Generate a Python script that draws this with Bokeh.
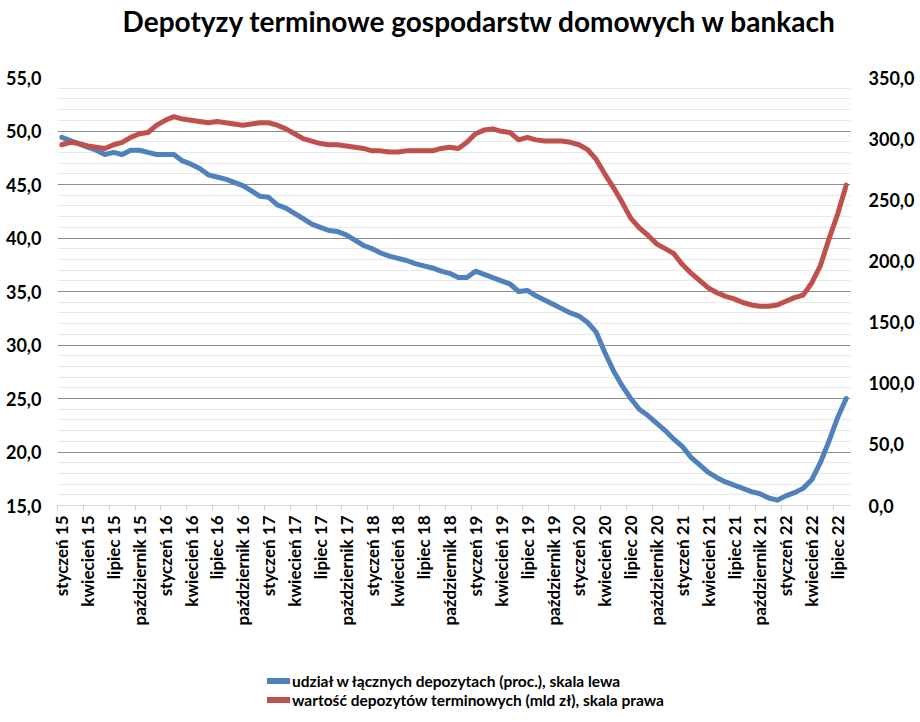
from bokeh.plotting import figure
from bokeh.layouts import column
from bokeh.models import (Range1d, LinearAxis, FixedTicker, Legend, LegendItem, Label)
from bokeh.embed import file_html
from bokeh.resources import INLINE

FONT = "Lato"

title_text = "Depotyzy terminowe gospodarstw domowych w bankach"
series_names = ["udział w łącznych depozytach (proc.), skala lewa",
                "wartość depozytów terminowych (mld zł), skala prawa"]

months_pl = ["styczeń", "kwiecień", "lipiec", "październik"]
years = ["15", "16", "17", "18", "19", "20", "21", "22"]

share = [49.4, 49.1, 48.8, 48.5, 48.2, 47.8, 48.0, 47.8, 48.2, 48.2, 48.0, 47.8,
         47.8, 47.8, 47.2, 46.9, 46.5, 45.9, 45.7, 45.5, 45.2, 44.9, 44.4, 43.9,
         43.8, 43.1, 42.8, 42.3, 41.8, 41.3, 41.0, 40.7, 40.6, 40.3, 39.8, 39.3,
         39.0, 38.6, 38.3, 38.1, 37.9, 37.6, 37.4, 37.2, 36.9, 36.7, 36.3, 36.3,
         36.9, 36.6, 36.3, 36.0, 35.7, 35.0, 35.1, 34.6, 34.2, 33.8, 33.4, 33.0,
         32.7, 32.1, 31.2, 29.3, 27.6, 26.2, 25.0, 24.0, 23.4, 22.7, 22.0, 21.2,
         20.5, 19.5, 18.8, 18.1, 17.6, 17.2, 16.9, 16.6, 16.3, 16.1, 15.7, 15.5,
         15.9, 16.2, 16.6, 17.4, 19.0, 21.0, 23.2, 25.0]

value = [295, 297, 296, 294, 293, 292, 295, 297, 301, 304, 305, 311,
         315, 318, 316, 315, 314, 313, 314, 313, 312, 311, 312, 313,
         313, 311, 308, 304, 300, 298, 296, 295, 295, 294, 293, 292,
         290, 290, 289, 289, 290, 290, 290, 290, 292, 293, 292, 297,
         304, 307, 308, 306, 305, 299, 301, 299, 298, 298, 298, 297,
         295, 291, 283, 271, 260, 248, 235, 227, 221, 214, 210, 206,
         197, 190, 184, 178, 174, 171, 169, 166, 164, 163, 163, 164,
         167, 170, 172, 182, 196, 218, 238, 262]

BLUE = "#4f81bd"
RED = "#c0504d"

n = len(share)
xs = list(range(n))

tick_pos = list(range(0, n, 3))
tick_labels = {}
for k, t in enumerate(tick_pos):
    tick_labels[t] = f"{months_pl[k % 4]} {years[k // 4]}"

left_ticks = list(range(15, 56, 5))
left_minor = [v for v in range(15, 56) if v % 5 != 0]
right_ticks = list(range(0, 351, 50))

W = 920
HEAD_H = 57
FOOT_H = 77

# ---------- header with the title ----------
hf = figure(width=W, height=HEAD_H, output_backend="svg", toolbar_location=None,
            x_range=Range1d(0, W), y_range=Range1d(0, HEAD_H),
            x_axis_type=None, y_axis_type=None, min_border=0,
            min_border_left=0, min_border_right=0, min_border_top=0, min_border_bottom=0)
hf.outline_line_color = None
hf.grid.visible = False
hf.add_layout(Label(x=490, y=37, text=title_text, text_align="center",
                    text_baseline="alphabetic", text_font=FONT, text_font_size="28px",
                    text_font_style="bold", text_color="black"))

# ---------- main chart ----------
p = figure(frame_width=793, frame_height=428, output_backend="svg", toolbar_location=None,
           x_range=Range1d(-0.5, n - 0.5), y_range=Range1d(15, 55),
           min_border_left=57, min_border_right=70, min_border_top=20,
           min_border_bottom=140)
p.outline_line_color = None
p.background_fill_color = "white"

p.extra_y_ranges = {"r": Range1d(0, 350)}

xa = p.xaxis[0]
xa.ticker = FixedTicker(ticks=tick_pos, minor_ticks=[t - 0.5 for t in tick_pos])
xa.major_label_overrides = tick_labels
xa.major_label_orientation = 3.14159265 / 2
xa.major_label_text_font = FONT
xa.major_label_text_font_size = "17px"
xa.major_label_text_font_style = "bold"
xa.major_label_text_color = "black"
xa.major_tick_line_color = None
xa.major_tick_out = 0
xa.major_tick_in = 0
xa.minor_tick_line_color = "#d0d0d0"
xa.minor_tick_out = 5
xa.minor_tick_in = 0
xa.axis_line_color = "#d9d9d9"
xa.major_label_standoff = 5

ya = p.yaxis[0]
ya.ticker = FixedTicker(ticks=left_ticks, minor_ticks=left_minor)
ya.major_label_overrides = {v: f"{v},0" for v in left_ticks}
ya.major_label_text_font = FONT
ya.major_label_text_font_size = "18px"
ya.major_label_text_font_style = "bold"
ya.major_label_text_color = "black"
ya.axis_line_color = None
ya.major_tick_line_color = None
ya.minor_tick_line_color = None
ya.major_tick_out = 0
ya.major_label_standoff = 12

ra = LinearAxis(y_range_name="r", ticker=FixedTicker(ticks=right_ticks))
ra.major_label_overrides = {v: f"{v},0" for v in right_ticks}
ra.major_label_text_font = FONT
ra.major_label_text_font_size = "18px"
ra.major_label_text_font_style = "bold"
ra.major_label_text_color = "black"
ra.axis_line_color = None
ra.major_tick_line_color = None
ra.minor_tick_line_color = None
ra.major_tick_out = 0
ra.major_label_standoff = 18
p.add_layout(ra, "right")

p.xgrid.visible = False
p.ygrid.grid_line_color = "#8c8c8c"
p.ygrid.grid_line_width = 1
p.ygrid.minor_grid_line_color = "#e8e8e8"
p.ygrid.minor_grid_line_width = 1

p.line(xs, share, line_color=BLUE, line_width=5, line_join="round", line_cap="round")
p.line(xs, value, line_color=RED, line_width=5, y_range_name="r",
       line_join="round", line_cap="round")

# ---------- footer with the legend ----------
lf = figure(width=W, height=FOOT_H, output_backend="svg", toolbar_location=None,
            x_range=Range1d(0, 1), y_range=Range1d(0, 1),
            x_axis_type=None, y_axis_type=None, min_border=0,
            min_border_left=0, min_border_right=0, min_border_top=0, min_border_bottom=0)
lf.outline_line_color = None
lf.grid.visible = False
g1 = lf.line(x=[-2, -1], y=[-2, -2], line_color=BLUE, line_width=6, line_cap="round")
g2 = lf.line(x=[-2, -1], y=[-3, -3], line_color=RED, line_width=6, line_cap="round")
legend = Legend(items=[LegendItem(label=series_names[0], renderers=[g1]),
                       LegendItem(label=series_names[1], renderers=[g2])],
                location=(210, 13), orientation="vertical")
legend.border_line_color = None
legend.background_fill_alpha = 0
legend.label_text_font = FONT
legend.label_text_font_size = "15.5px"
legend.label_text_font_style = "bold"
legend.label_text_color = "black"
legend.glyph_width = 23
legend.glyph_height = 19
legend.label_height = 19
legend.spacing = 0
legend.padding = 0
legend.margin = 0
legend.label_standoff = 2
lf.add_layout(legend)

layout = column(hf, p, lf, spacing=0)
open("out.html", "w").write(file_html(layout, INLINE))
